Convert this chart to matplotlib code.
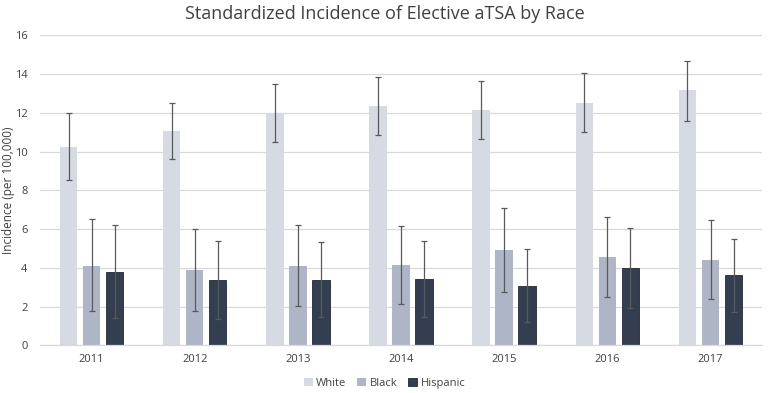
import numpy as np
import matplotlib.pyplot as plt

years = ['2011', '2012', '2013', '2014', '2015', '2016', '2017']
races = ['White', 'Black', 'Hispanic']

white = [10.26, 11.07, 11.98, 12.36, 12.15, 12.52, 13.19]
white_lo = [8.53, 9.64, 10.50, 10.86, 10.66, 11.02, 11.57]
white_hi = [11.98, 12.50, 13.51, 13.87, 13.64, 14.05, 14.70]

black = [4.09, 3.90, 4.09, 4.14, 4.91, 4.55, 4.40]
black_lo = [1.78, 1.78, 2.04, 2.14, 2.74, 2.49, 2.40]
black_hi = [6.53, 6.01, 6.24, 6.18, 7.10, 6.65, 6.48]

hispanic = [3.79, 3.38, 3.38, 3.42, 3.05, 3.98, 3.62]
hispanic_lo = [1.44, 1.38, 1.47, 1.49, 1.23, 1.94, 1.73]
hispanic_hi = [6.24, 5.41, 5.36, 5.41, 5.00, 6.06, 5.51]

COLORS = ['#d6dae3', '#adb5c6', '#333f50']
GRID = '#d9d9d9'
TEXT = '#404040'

plt.rcParams['font.family'] = ['Open Sans', 'DejaVu Sans']

fig = plt.figure(figsize=(7.69, 3.93), dpi=100)
ax = fig.add_axes([0.052, 0.121, 0.939, 0.789])

x = np.arange(len(years))
width = 0.17
offset = 0.223
series = [(white, white_lo, white_hi), (black, black_lo, black_hi),
          (hispanic, hispanic_lo, hispanic_hi)]

for i, (vals, lo, hi) in enumerate(series):
    vals = np.array(vals)
    yerr = np.vstack([vals - np.array(lo), np.array(hi) - vals])
    ax.bar(x + (i - 1) * offset, vals, width, color=COLORS[i], label=races[i],
           zorder=2, edgecolor='#222a36' if i == 2 else 'none', linewidth=0.6)
    ax.errorbar(x + (i - 1) * offset, vals, yerr=yerr, fmt='none',
                ecolor='#595959', elinewidth=0.9, capsize=2.5, capthick=0.9, zorder=3)

ax.set_xlim(-0.5, len(years) - 0.5)
ax.set_ylim(0, 16)
ax.set_yticks(range(0, 17, 2))
ax.set_xticks(x)
ax.set_xticklabels(years)
ax.yaxis.grid(True, color=GRID, linewidth=0.9, zorder=0)
ax.set_axisbelow(True)
for side in ['top', 'right', 'left']:
    ax.spines[side].set_visible(False)
ax.spines['bottom'].set_color(GRID)
ax.spines['bottom'].set_linewidth(0.9)
ax.tick_params(axis='both', length=0, labelsize=8, colors=TEXT)
ax.tick_params(axis='x', pad=6)
ax.tick_params(axis='y', pad=9)

ax.set_ylabel('Incidence (per 100,000)', fontsize=8.5, color=TEXT)
ax.yaxis.set_label_coords(-0.034, 0.5)
fig.text(0.5, 0.965, 'Standardized Incidence of Elective aTSA by Race',
         ha='center', va='center', fontsize=13, color=TEXT)

fig.legend(loc='center', bbox_to_anchor=(0.5, 0.025), ncol=3, frameon=False,
           fontsize=8, handlelength=0.8, handleheight=0.8, handletextpad=0.3,
           columnspacing=1.0, labelcolor=TEXT)

plt.savefig('out.png', dpi=100)
